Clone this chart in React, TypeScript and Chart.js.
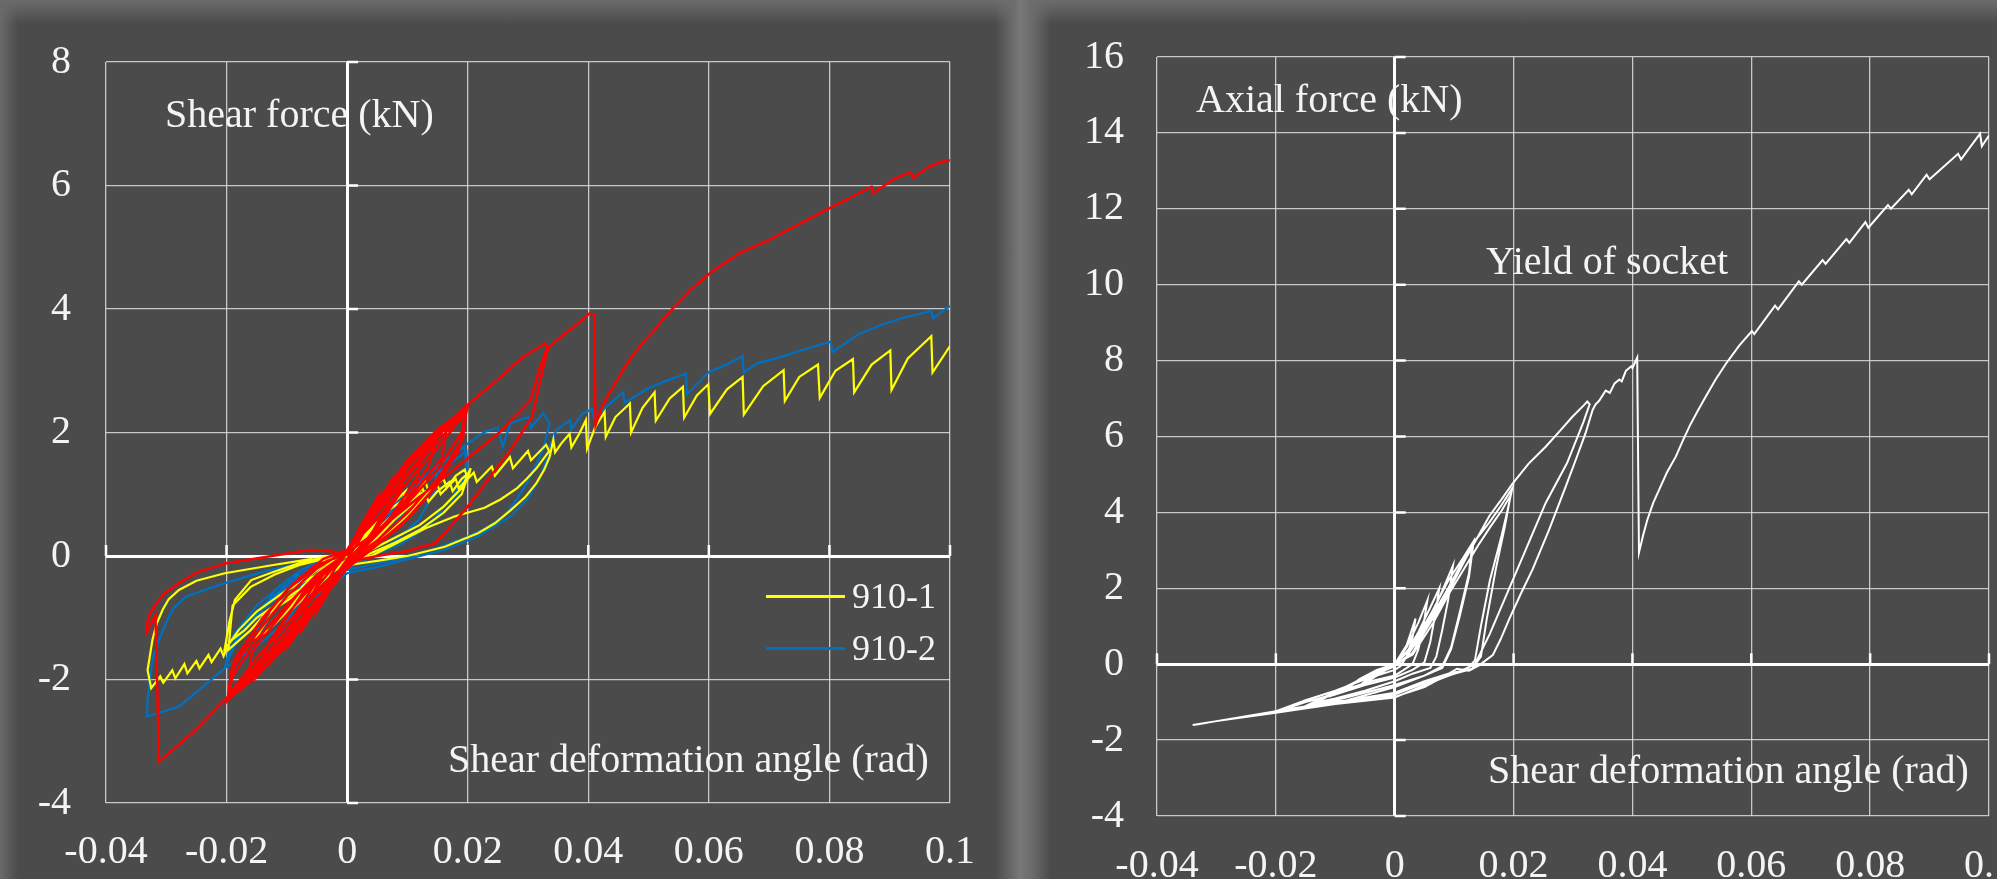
import React, { useEffect, useRef } from 'react';
import { Chart, registerables } from 'chart.js';

Chart.register(...registerables);

type Pt = [number, number];

const FONT = '"Liberation Serif", "Times New Roman", Times, serif';
const GRID = 'rgba(222,222,222,0.85)';
const TEXT = '#f4f4f4';

// ---------- tick labels ----------
const angleTicks = ['-0.04', '-0.02', '0', '0.02', '0.04', '0.06', '0.08', '0.1'];
const shearTicks = ['-4', '-2', '0', '2', '4', '6', '8'];
const axialTicks = ['-4', '-2', '0', '2', '4', '6', '8', '10', '12', '14', '16'];

// ---------- left panel: shear force vs angle ----------
// red specimen (not in legend)
const redSmallCycles: Pt[] = [
  [0, 0], [0.002, 0.45], [0.005, 0.95], [0.004, 0.6], [0.002, 0.25], [0, -0.05], [-0.002, -0.4], [-0.005, -0.9], [-0.004, -0.55], [-0.002, -0.2], [0, 0.05],
  [0.003, 0.5], [0.0075, 1.25], [0.0068, 0.85], [0.004, 0.35], [0, -0.1], [-0.003, -0.5], [-0.0075, -1.2], [-0.0068, -0.8], [-0.004, -0.3], [0, 0.05],
  [0.003, 0.55], [0.006, 1.0], [0.01, 1.5], [0.0085, 1.05], [0.005, 0.5], [0.002, 0.1], [0, -0.1], [-0.003, -0.5], [-0.006, -0.95], [-0.01, -1.45], [-0.0085, -1.0], [-0.005, -0.5], [-0.002, -0.15], [0, 0.05],
  [0.004, 0.65], [0.0097, 1.5], [0.009, 1.05], [0.005, 0.45], [0, -0.08], [-0.004, -0.6], [-0.0097, -1.45], [-0.009, -1.0], [-0.005, -0.4], [0, 0.05],
  [0.005, 0.8], [0.0125, 1.75], [0.0118, 1.3], [0.007, 0.6], [0, -0.1], [-0.005, -0.75], [-0.0125, -1.7], [-0.0118, -1.25], [-0.007, -0.55], [0, 0.05],
  [0.004, 0.7], [0.008, 1.25], [0.0132, 1.82], [0.015, 1.95], [0.0135, 1.45], [0.01, 0.95], [0.006, 0.45], [0.002, 0.05], [0, -0.1], [-0.004, -0.65], [-0.008, -1.2], [-0.012, -1.6], [-0.015, -1.95], [-0.0135, -1.5], [-0.01, -0.95], [-0.006, -0.5], [-0.002, -0.1], [0, 0.05],
  [0.005, 0.75], [0.0165, 2.1], [0.0158, 1.6], [0.008, 0.65], [0, -0.1], [-0.005, -0.7], [-0.0165, -2.05], [-0.0158, -1.55], [-0.008, -0.6], [0, 0.05],
];
const redCycles002: Pt[] = [
  [0.005, 0.8], [0.01, 1.45], [0.015, 1.95], [0.02, 2.42], [0.019, 2.0], [0.015, 1.4], [0.01, 0.85], [0.005, 0.35], [0, -0.05], [-0.005, -0.75], [-0.01, -1.35], [-0.015, -1.85], [-0.02, -2.36], [-0.019, -1.95], [-0.015, -1.35], [-0.01, -0.8], [-0.005, -0.3], [0, 0.05],
  [0.005, 0.7], [0.01, 1.3], [0.015, 1.85], [0.0198, 2.38], [0.0192, 1.9], [0.015, 1.25], [0.01, 0.7], [0.005, 0.25], [0, -0.1], [-0.005, -0.6], [-0.01, -1.2], [-0.015, -1.75], [-0.0198, -2.3], [-0.0192, -1.85], [-0.015, -1.25], [-0.01, -0.65], [-0.005, -0.2], [0, 0.1],
  [0.005, 0.6], [0.01, 1.2], [0.015, 1.75], [0.0195, 2.3], [0.0188, 1.8], [0.015, 1.15], [0.01, 0.6], [0.005, 0.2], [0, -0.15], [-0.005, -0.55], [-0.01, -1.1], [-0.015, -1.65], [-0.0196, -2.25], [-0.019, -1.75], [-0.015, -1.15], [-0.01, -0.55], [-0.005, -0.15], [0, 0.05],
  [0.005, 0.85], [0.01, 1.55], [0.015, 2.05], [0.0199, 2.4], [0.0185, 1.7], [0.014, 1.05], [0.009, 0.5], [0.004, 0.1], [0, -0.2], [-0.005, -0.8], [-0.01, -1.45], [-0.015, -1.95], [-0.0199, -2.33], [-0.0185, -1.65], [-0.014, -1.0], [-0.009, -0.45], [-0.004, -0.05], [0, 0.1],
];
const redBigLoop: Pt[] = [
  [0.005, 0.9], [0.01, 1.5], [0.015, 2.0], [0.02, 2.45], [0.0228, 2.68], [0.0255, 2.9], [0.0275, 3.08], [0.0293, 3.23], [0.0308, 3.32], [0.0318, 3.38], [0.0328, 3.44], [0.0332, 3.38],
  [0.0318, 3.0], [0.0304, 2.52], [0.025, 1.98], [0.0202, 1.6], [0.0162, 1.28], [0.01, 0.8], [0.005, 0.4], [0, 0.05],
  [-0.006, 0.1], [-0.0125, 0.0], [-0.0203, -0.12], [-0.025, -0.27], [-0.0279, -0.44], [-0.0302, -0.6], [-0.0317, -0.77], [-0.0328, -0.95], [-0.0333, -1.14], [-0.0333, -1.25], [-0.0318, -0.95], [-0.0312, -3.33],
  [-0.0255, -2.85], [-0.0203, -2.33], [-0.0137, -1.68], [-0.0061, -0.87], [0, -0.1],
];
const redFinalPush: Pt[] = [
  [0.005, 0.0], [0.01, 0.08], [0.0146, 0.21], [0.0162, 0.37], [0.02, 0.8], [0.0235, 1.25], [0.0271, 1.72], [0.0307, 2.26], [0.0331, 3.3], [0.0336, 3.39], [0.0352, 3.53], [0.0369, 3.66], [0.0385, 3.78], [0.0402, 3.93], [0.041, 3.9],
  [0.0412, 2.12], [0.0423, 2.42], [0.0434, 2.62], [0.0445, 2.8], [0.0458, 3.02], [0.0472, 3.23], [0.049, 3.45], [0.051, 3.66], [0.0525, 3.85], [0.0543, 4.04], [0.0572, 4.33], [0.0604, 4.6], [0.065, 4.9], [0.07, 5.12], [0.075, 5.38], [0.0802, 5.64], [0.087, 5.98], [0.0873, 5.88],
  [0.0906, 6.1], [0.0935, 6.22], [0.0938, 6.12], [0.0965, 6.3], [0.0985, 6.38], [0.1, 6.41],
];

// 910-1 (yellow)
const s9101Cycles: Pt[] = [
  [0, 0], [0.003, 0.35], [0.005, 0.55], [0.004, 0.3], [0.002, 0.05], [0, -0.1], [-0.003, -0.3], [-0.005, -0.5], [-0.004, -0.3], [-0.002, -0.1], [0, 0.02],
  [0.004, 0.4], [0.007, 0.75], [0.01, 0.95], [0.008, 0.6], [0.005, 0.3], [0.002, 0.05], [0, -0.1], [-0.004, -0.35], [-0.007, -0.65], [-0.01, -0.95], [-0.008, -0.6], [-0.005, -0.3], [-0.002, -0.1], [0, 0.03],
  [0.004, 0.45], [0.007, 0.8], [0.0097, 1.05], [0.0085, 0.7], [0.005, 0.35], [0, -0.05], [-0.004, -0.4], [-0.0085, -0.8], [-0.0075, -0.5], [-0.004, -0.2], [0, 0.02],
  [0.004, 0.35], [0.008, 0.7], [0.011, 1.0], [0.013, 1.2], [0.0135, 1.05], [0.011, 0.75], [0.007, 0.4], [0.003, 0.1], [0, -0.1], [-0.005, -0.4], [-0.01, -0.9], [-0.013, -1.2], [-0.015, -1.3], [-0.012, -0.85], [-0.008, -0.45], [-0.004, -0.15], [0, 0],
];
const s9101Cycles002: Pt[] = [
  [0.004, 0.35], [0.008, 0.7], [0.011, 0.95], [0.0125, 1.1], [0.013, 0.95], [0.0145, 1.15], [0.016, 1.25], [0.0165, 1.1], [0.018, 1.3], [0.0195, 1.4], [0.02, 1.25], [0.0205, 1.42], [0.019, 1.1], [0.016, 0.8], [0.012, 0.5], [0.008, 0.3], [0.004, 0.1], [0, -0.1],
  [-0.004, -0.3], [-0.008, -0.55], [-0.012, -0.8], [-0.015, -1.0], [-0.017, -1.2], [-0.019, -1.35], [-0.0203, -1.5], [-0.0195, -1.05], [-0.0186, -0.71], [-0.0159, -0.39], [-0.012, -0.25], [-0.008, -0.12], [-0.004, -0.02], [0, 0.05],
  [0.004, 0.3], [0.008, 0.6], [0.011, 0.85], [0.013, 1.0], [0.0135, 0.88], [0.015, 1.05], [0.017, 1.2], [0.0175, 1.05], [0.019, 1.25], [0.0202, 1.35], [0.019, 1.0], [0.016, 0.7], [0.012, 0.42], [0.008, 0.22], [0.004, 0.05], [0, -0.12],
  [-0.004, -0.35], [-0.008, -0.6], [-0.012, -0.85], [-0.0137, -0.95], [-0.016, -1.2], [-0.0197, -1.52], [-0.0193, -1.1], [-0.019, -0.8], [-0.016, -0.5], [-0.012, -0.3], [-0.008, -0.15], [-0.004, -0.05], [0, 0],
];
const s9101BigLoop: Pt[] = [
  [0.004, 0.35], [0.008, 0.7], [0.012, 1.0], [0.015, 1.15], [0.0155, 1.0], [0.018, 1.25], [0.0185, 1.1], [0.021, 1.35], [0.0215, 1.2], [0.024, 1.45], [0.0245, 1.3], [0.027, 1.6], [0.0275, 1.42], [0.03, 1.7], [0.0305, 1.55], [0.033, 1.8], [0.0335, 1.7],
  [0.0314, 1.42], [0.0298, 1.25], [0.0282, 1.1], [0.0255, 0.92], [0.0228, 0.78], [0.0178, 0.64], [0.013, 0.45], [0.008, 0.2], [0.004, 0.0], [0, -0.12],
  [-0.0061, -0.05], [-0.0125, -0.15], [-0.0203, -0.28], [-0.025, -0.4], [-0.0279, -0.55], [-0.0296, -0.7], [-0.0306, -0.87], [-0.0316, -1.1], [-0.0323, -1.36], [-0.0331, -1.85], [-0.0325, -2.14],
  [-0.031, -1.95], [-0.0305, -2.05], [-0.029, -1.85], [-0.0285, -1.98], [-0.027, -1.75], [-0.0265, -1.9], [-0.025, -1.7], [-0.0245, -1.82], [-0.023, -1.6], [-0.0225, -1.72], [-0.021, -1.5], [-0.0205, -1.62], [-0.0198, -1.45],
  [-0.018, -1.2], [-0.015, -0.9], [-0.01, -0.55], [-0.005, -0.3], [0, -0.15],
];
const s9101Final: Pt[] = [
  [0.005, -0.08], [0.01, 0.0], [0.0162, 0.15], [0.0217, 0.37], [0.0245, 0.53], [0.0271, 0.74], [0.0295, 0.95], [0.0314, 1.18], [0.0327, 1.4], [0.0336, 1.61], [0.0342, 1.88], [0.0345, 1.68], [0.0355, 1.82],
  [0.0369, 1.98], [0.0372, 1.76], [0.0385, 1.98], [0.0396, 2.2], [0.0398, 1.74], [0.0412, 2.1], [0.0427, 2.33], [0.0429, 1.93], [0.0445, 2.25], [0.0469, 2.47], [0.0471, 2.0],
  [0.049, 2.4], [0.051, 2.65], [0.0512, 2.19], [0.0535, 2.55], [0.0557, 2.74], [0.0559, 2.24], [0.058, 2.6], [0.0599, 2.78], [0.0602, 2.3], [0.063, 2.7], [0.0656, 2.9], [0.0658, 2.29],
  [0.069, 2.75], [0.0724, 3.01], [0.0726, 2.51], [0.075, 2.9], [0.0781, 3.1], [0.0784, 2.56], [0.081, 3.0], [0.0839, 3.19], [0.0841, 2.65], [0.087, 3.1], [0.0901, 3.33], [0.0903, 2.69],
  [0.093, 3.2], [0.0969, 3.56], [0.0971, 2.97], [0.1, 3.4],
];

// 910-2 (blue)
const s9102Cycles: Pt[] = [
  [0, 0], [0.003, 0.35], [0.005, 0.6], [0.0045, 0.35], [0.003, 0.1], [0, -0.15], [-0.003, -0.3], [-0.005, -0.55], [-0.0045, -0.3], [-0.002, -0.1], [0, 0.02],
  [0.004, 0.45], [0.007, 0.8], [0.01, 1.05], [0.009, 0.65], [0.006, 0.3], [0.003, 0.05], [0, -0.2], [-0.004, -0.4], [-0.007, -0.7], [-0.01, -1.0], [-0.009, -0.65], [-0.006, -0.3], [-0.003, -0.08], [0, 0.03],
  [0.004, 0.4], [0.008, 0.85], [0.012, 1.2], [0.015, 1.45], [0.0145, 1.05], [0.012, 0.6], [0.008, 0.25], [0.004, 0.0], [0, -0.2], [-0.004, -0.35], [-0.008, -0.65], [-0.012, -1.0], [-0.015, -1.35], [-0.0145, -0.95], [-0.012, -0.55], [-0.008, -0.25], [-0.004, -0.05], [0, 0.03],
];
const s9102Cycles002: Pt[] = [
  [0.005, 0.55], [0.01, 1.05], [0.015, 1.45], [0.0195, 1.77], [0.0198, 1.3], [0.017, 0.9], [0.014, 0.55], [0.01, 0.3], [0.005, 0.05], [0, -0.2],
  [-0.005, -0.15], [-0.01, -0.4], [-0.015, -0.8], [-0.019, -1.3], [-0.0203, -1.82], [-0.0185, -1.4], [-0.015, -0.95], [-0.01, -0.55], [-0.005, -0.25], [0, -0.05],
  [0.005, 0.5], [0.01, 0.95], [0.015, 1.35], [0.0198, 1.7], [0.02, 1.25], [0.017, 0.8], [0.013, 0.45], [0.009, 0.2], [0.004, 0.0], [0, -0.22],
  [-0.005, -0.2], [-0.01, -0.45], [-0.015, -0.9], [-0.0185, -1.35], [-0.02, -1.75], [-0.0185, -1.35], [-0.015, -0.9], [-0.01, -0.5], [-0.005, -0.2], [0, 0],
];
const s9102BigLoop: Pt[] = [
  [0.005, 0.5], [0.01, 1.0], [0.015, 1.45], [0.02, 1.82], [0.0228, 2.01], [0.025, 2.08], [0.0258, 1.77], [0.0271, 2.15], [0.03, 2.25], [0.0305, 2.08], [0.0325, 2.31], [0.0336, 2.15],
  [0.0325, 1.72], [0.0312, 1.45], [0.0298, 1.18], [0.028, 0.9], [0.026, 0.64], [0.023, 0.45], [0.02, 0.31], [0.015, 0.13], [0.0102, -0.01], [0.005, -0.12], [0, -0.23],
  [-0.006, -0.08], [-0.0137, -0.25], [-0.0203, -0.44], [-0.0268, -0.66], [-0.0288, -0.85], [-0.0301, -1.09], [-0.0313, -1.38], [-0.0323, -1.68], [-0.0331, -2.33], [-0.0332, -2.6],
  [-0.0279, -2.44], [-0.0203, -1.82], [-0.0137, -1.36], [-0.0061, -0.71], [0, -0.28],
];
const s9102Final: Pt[] = [
  [0.005, -0.18], [0.01, -0.05], [0.0162, 0.1], [0.0217, 0.32], [0.0271, 0.64], [0.0298, 0.91], [0.0313, 1.15], [0.0325, 1.39], [0.0336, 1.77], [0.0347, 2.04], [0.037, 2.2], [0.0372, 2.05],
  [0.039, 2.3], [0.0406, 2.38], [0.041, 2.22], [0.043, 2.42], [0.0458, 2.65], [0.046, 2.48], [0.05, 2.72], [0.0525, 2.82], [0.0562, 2.95], [0.0564, 2.62], [0.06, 2.98],
  [0.063, 3.1], [0.0656, 3.24], [0.0658, 2.97], [0.068, 3.12], [0.0719, 3.22], [0.075, 3.32], [0.0802, 3.47], [0.0805, 3.3], [0.085, 3.6], [0.0886, 3.74], [0.092, 3.85],
  [0.0969, 3.97], [0.0972, 3.85], [0.1, 4.05],
];

// ---------- right panel: axial force vs angle ----------
const axialCycles: Pt[] = [
  [0, 0], [0.002, 0.5], [0.0035, 1.2], [0.003, 0.7], [0.002, 0.2], [0.001, -0.05], [0, -0.15], [-0.003, -0.3], [-0.005, -0.45], [-0.003, -0.2], [-0.001, -0.05], [0, 0],
  [0.002, 0.45], [0.004, 1.1], [0.0055, 1.68], [0.0048, 1.0], [0.004, 0.4], [0.003, 0.0], [0.001, -0.2], [0, -0.3], [-0.004, -0.45], [-0.008, -0.65], [-0.006, -0.4], [-0.003, -0.15], [0, 0],
  [0.002, 0.3], [0.004, 0.85], [0.006, 1.5], [0.0075, 2.0], [0.0068, 1.3], [0.006, 0.6], [0.005, 0.05], [0.003, -0.15], [0, -0.35], [-0.005, -0.55], [-0.01, -0.8], [-0.007, -0.5], [-0.004, -0.25], [0, -0.05],
  [0.002, 0.2], [0.005, 0.9], [0.0075, 1.75], [0.0098, 2.6], [0.009, 1.7], [0.008, 0.9], [0.007, 0.2], [0.006, -0.1], [0.003, -0.25], [0, -0.45], [-0.005, -0.7], [-0.01, -0.9], [-0.013, -1.0], [-0.009, -0.65], [-0.005, -0.35], [-0.002, -0.1], [0, 0],
  [0.003, 0.5], [0.006, 1.3], [0.009, 2.2], [0.0115, 2.8], [0.0133, 3.25], [0.0125, 2.3], [0.011, 1.3], [0.0095, 0.4], [0.008, -0.1], [0.005, -0.3], [0, -0.55], [-0.005, -0.75], [-0.01, -0.95], [-0.015, -1.1], [-0.011, -0.8], [-0.006, -0.45], [-0.002, -0.15], [0, 0],
  [0.003, 0.45], [0.006, 1.2], [0.009, 2.0], [0.012, 2.8], [0.013, 3.1], [0.0125, 2.4], [0.011, 1.4], [0.0095, 0.45], [0.008, -0.05], [0.005, -0.3], [0, -0.6], [-0.008, -0.95], [-0.015, -1.15], [-0.02, -1.24], [-0.015, -0.95], [-0.01, -0.7], [-0.005, -0.4], [0, -0.05],
];
const axialCycles002: Pt[] = [
  [0.003, 0.3], [0.0063, 1.2], [0.009, 2.0], [0.0114, 2.7], [0.0135, 3.25], [0.0159, 3.73], [0.018, 4.2], [0.0198, 4.64], [0.0189, 4.0], [0.018, 3.4], [0.016, 2.2], [0.0145, 1.0], [0.0135, 0.1], [0.012, -0.15], [0.009, -0.25], [0.005, -0.45], [0, -0.75],
  [-0.01, -1.0], [-0.02, -1.25], [-0.015, -1.0], [-0.01, -0.78], [-0.005, -0.5], [-0.002, -0.2], [0, 0],
  [0.003, 0.25], [0.0065, 1.1], [0.0093, 1.9], [0.012, 2.6], [0.014, 3.12], [0.016, 3.6], [0.018, 4.05], [0.0195, 4.45], [0.0185, 3.6], [0.017, 2.5], [0.0155, 1.2], [0.0145, 0.2], [0.013, -0.12], [0.01, -0.25], [0.005, -0.5], [0, -0.8],
  [-0.01, -1.02], [-0.02, -1.26], [-0.015, -1.0], [-0.01, -0.8], [-0.005, -0.5], [-0.002, -0.2], [0, 0],
];
const axialBigLoop: Pt[] = [
  [0.004, 0.6], [0.008, 1.6], [0.012, 2.8], [0.0159, 3.9], [0.018, 4.35], [0.0198, 4.75], [0.0225, 5.28], [0.0254, 5.73], [0.0278, 6.15], [0.0299, 6.52], [0.0318, 6.82], [0.0324, 6.92], [0.0328, 6.85],
  [0.0318, 6.4], [0.029, 5.3], [0.0254, 4.25], [0.022, 3.0], [0.019, 1.9], [0.016, 0.8], [0.0135, 0.0], [0.0115, -0.15], [0.01, -0.25], [0.005, -0.55], [0, -0.88],
  [-0.01, -1.05], [-0.02, -1.28], [-0.03, -1.5], [-0.0333, -1.59], [-0.034, -1.6],
  [-0.03, -1.5], [-0.02, -1.24], [-0.01, -0.98], [-0.004, -0.92], [0, -0.86], [0.005, -0.6], [0.008, -0.35], [0.0105, -0.12], [0.0125, -0.17], [0.0142, -0.03], [0.0165, 0.24], [0.0178, 0.65], [0.0193, 1.2], [0.0212, 1.85], [0.0232, 2.5],
  [0.026, 3.55], [0.0288, 4.69], [0.0305, 5.4], [0.0321, 6.08], [0.0333, 6.7], [0.0338, 6.85], [0.0344, 6.94],
];
const axialFinal: Pt[] = [
  [0.0355, 7.21], [0.0362, 7.15], [0.037, 7.4], [0.0378, 7.5], [0.0382, 7.45], [0.0389, 7.73], [0.0398, 7.85], [0.04, 7.8], [0.0408, 8.08],
  [0.0411, 2.94], [0.0418, 3.4], [0.0425, 3.8], [0.0435, 4.25], [0.0445, 4.6], [0.0458, 5.05], [0.0473, 5.47], [0.0485, 5.9], [0.0497, 6.3], [0.051, 6.68], [0.0523, 7.04], [0.054, 7.5], [0.0557, 7.91],
  [0.058, 8.4], [0.0601, 8.78], [0.0605, 8.7], [0.064, 9.45], [0.0645, 9.35],
  [0.068, 10.09], [0.0685, 10.0], [0.072, 10.65], [0.0725, 10.55], [0.076, 11.2], [0.0765, 11.1], [0.0792, 11.65], [0.0797, 11.5], [0.083, 12.1], [0.0835, 12.0],
  [0.0865, 12.5], [0.087, 12.38], [0.0895, 12.9], [0.09, 12.78], [0.0948, 13.45], [0.0953, 13.3], [0.0985, 13.98], [0.0988, 13.65], [0.1, 13.93],
];

// ---------- helpers ----------
const toXY = (...parts: Pt[][]) => parts.flat().map(([x, y]) => ({ x, y }));

const zeroAxisTicks = {
  id: 'zeroAxisTicks',
  beforeDatasetsDraw(chart: any) {
    const { ctx, scales } = chart;
    const xs = scales.x;
    const ys = scales.y;
    const x0 = xs.getPixelForValue(0);
    const y0 = ys.getPixelForValue(0);
    ctx.save();
    ctx.strokeStyle = '#ffffff';
    ctx.lineWidth = 2.5;
    ctx.beginPath();
    ys.ticks.forEach((t: any) => {
      const py = ys.getPixelForValue(t.value);
      ctx.moveTo(x0, py);
      ctx.lineTo(x0 + 11, py);
    });
    xs.ticks.forEach((t: any) => {
      const px = xs.getPixelForValue(t.value);
      ctx.moveTo(px, y0);
      ctx.lineTo(px, y0 - 11);
    });
    ctx.stroke();
    ctx.restore();
  },
};

interface Spec {
  width: number;
  height: number;
  area: { left: number; top: number; right: number; bottom: number };
  xMin: number; xMax: number; xStep: number; xLabels: string[]; xPad: number;
  yMin: number; yMax: number; yStep: number; yLabels: string[]; yPad: number;
  datasets: any[];
}

const isZero = (c: any) => c.tick && Math.abs(c.tick.value) < 1e-9;

function Panel({ spec, left }: { spec: Spec; left: number }) {
  const ref = useRef<HTMLCanvasElement | null>(null);
  useEffect(() => {
    if (!ref.current) return;
    const s = spec;
    const chart = new Chart(ref.current, {
      type: 'scatter',
      data: { datasets: s.datasets },
      options: {
        responsive: false,
        maintainAspectRatio: false,
        animation: false,
        events: [],
        layout: { padding: { left: 0, top: s.area.top, right: s.width - s.area.right, bottom: 0 } },
        plugins: { legend: { display: false }, tooltip: { enabled: false } },
        elements: { point: { radius: 0 }, line: { tension: 0 } },
        scales: {
          x: {
            type: 'linear',
            min: s.xMin,
            max: s.xMax,
            ticks: {
              stepSize: s.xStep,
              autoSkip: false,
              maxRotation: 0,
              minRotation: 0,
              padding: s.xPad,
              color: TEXT,
              font: { family: FONT, size: 40 },
              callback: (v: any) => s.xLabels[Math.round((Number(v) - s.xMin) / s.xStep)] ?? '',
            },
            grid: {
              drawTicks: false,
              color: (c: any) => (isZero(c) ? '#ffffff' : GRID),
              lineWidth: (c: any) => (isZero(c) ? 3 : 1.3),
            },
            border: { display: false },
            afterFit: (scale: any) => { scale.height = s.height - s.area.bottom; },
          },
          y: {
            type: 'linear',
            min: s.yMin,
            max: s.yMax,
            ticks: {
              stepSize: s.yStep,
              autoSkip: false,
              padding: s.yPad,
              color: TEXT,
              font: { family: FONT, size: 40 },
              callback: (v: any) => s.yLabels[Math.round((Number(v) - s.yMin) / s.yStep)] ?? '',
            },
            grid: {
              drawTicks: false,
              color: (c: any) => (isZero(c) ? '#ffffff' : GRID),
              lineWidth: (c: any) => (isZero(c) ? 3 : 1.3),
            },
            border: { display: false },
            afterFit: (scale: any) => { scale.width = s.area.left; },
          },
        },
      } as any,
      plugins: [zeroAxisTicks],
    });
    return () => chart.destroy();
  }, [spec]);
  return (
    <canvas
      ref={ref}
      width={spec.width}
      height={spec.height}
      style={{ position: 'absolute', left, top: 0, width: spec.width, height: spec.height }}
    />
  );
}

const line = (label: string, color: string, data: any, order: number, width = 2.2) => ({
  label,
  data,
  showLine: true,
  borderColor: color,
  backgroundColor: color,
  borderWidth: width,
  pointRadius: 0,
  fill: false,
  order,
});

const shearSpec: Spec = {
  width: 1000,
  height: 879,
  area: { left: 106, top: 62, right: 963, bottom: 803 },
  xMin: -0.04, xMax: 0.1, xStep: 0.02, xLabels: angleTicks, xPad: 25,
  yMin: -4, yMax: 8, yStep: 2, yLabels: shearTicks, yPad: 35,
  datasets: [
    line('Red specimen', '#ff0000', toXY(redSmallCycles, redCycles002, redBigLoop, redFinalPush), 0, 2.5),
    line('910-1', '#ffff00', toXY(s9101Cycles, s9101Cycles002, s9101BigLoop, s9101Final), 1),
    line('910-2', '#0070c0', toXY(s9102Cycles, s9102Cycles002, s9102BigLoop, s9102Final), 2),
  ],
};

const axialSpec: Spec = {
  width: 1040,
  height: 879,
  area: { left: 157, top: 50, right: 991, bottom: 816 },
  xMin: -0.04, xMax: 0.1, xStep: 0.02, xLabels: angleTicks, xPad: 26,
  yMin: -4, yMax: 16, yStep: 2, yLabels: axialTicks, yPad: 33,
  datasets: [line('Axial force', '#ffffff', toXY(axialCycles, axialCycles002, axialBigLoop, axialFinal), 0, 2)],
};

const txt = (text: string, left: number, baseline: number, size = 40) => (
  <div
    style={{
      position: 'absolute',
      left,
      top: baseline - size * 0.8375,
      fontFamily: FONT,
      fontSize: size,
      lineHeight: `${size}px`,
      color: TEXT,
      whiteSpace: 'nowrap',
    }}
  >
    {text}
  </div>
);

export default function App() {
  return (
    <div
      style={{
        position: 'absolute',
        left: 0,
        top: 0,
        width: 1997,
        height: 879,
        overflow: 'hidden',
        background: '#4b4b4b',
      }}
    >
      <div style={{ position: 'absolute', left: 0, top: 0, width: 1997, height: 24, background: 'linear-gradient(#6c6c6c, rgba(75,75,75,0))' }} />
      <div style={{ position: 'absolute', left: 0, top: 0, width: 18, height: 879, background: 'linear-gradient(90deg, #6a6a6a, rgba(75,75,75,0))' }} />
      <div
        style={{
          position: 'absolute',
          left: 995,
          top: 0,
          width: 56,
          height: 879,
          background: 'linear-gradient(90deg, rgba(75,75,75,0) 0%, #6e6e6e 35%, #787878 45%, #6c6c6c 65%, rgba(75,75,75,0) 100%)',
        }}
      />
      <Panel spec={shearSpec} left={0} />
      <Panel spec={axialSpec} left={1000} />
      {txt('Shear force (kN)', 165, 127)}
      {txt('Shear deformation angle (rad)', 448, 772)}
      <div style={{ position: 'absolute', left: 766, top: 595, width: 79, height: 3, background: '#ffff00' }} />
      <div style={{ position: 'absolute', left: 766, top: 647, width: 79, height: 3, background: '#0070c0' }} />
      {txt('910-1', 852, 608, 36)}
      {txt('910-2', 852, 660, 36)}
      {txt('Axial force (kN)', 1196, 112)}
      {txt('Yield of socket', 1486, 274)}
      {txt('Shear deformation angle (rad)', 1488, 783)}
    </div>
  );
}
